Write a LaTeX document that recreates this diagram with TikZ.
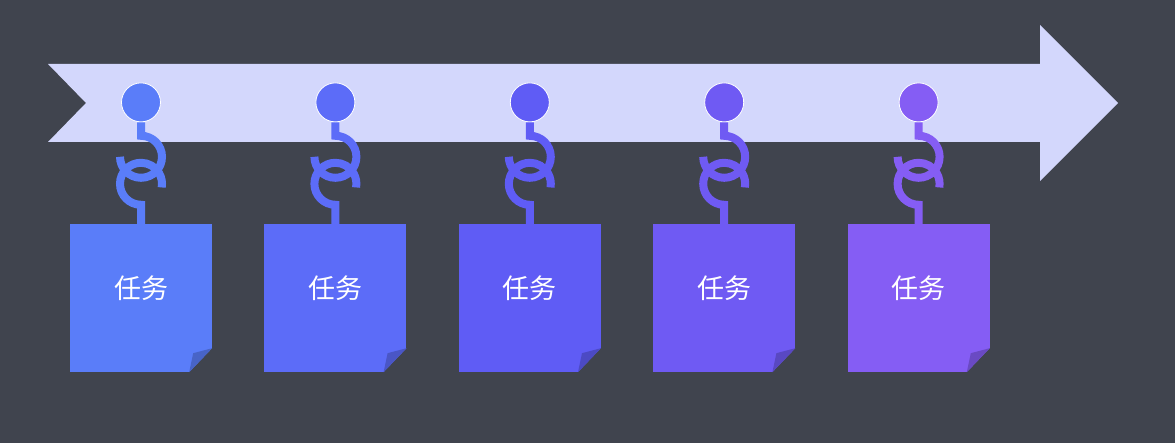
\documentclass[tikz,border=0pt]{standalone}
\usepackage{fontspec}
\newfontfamily\cjk{Noto Sans CJK SC}
\usetikzlibrary{positioning}

\definecolor{bg}{HTML}{40444E}
\definecolor{band}{HTML}{D3D7FC}
\definecolor{ca}{HTML}{5A7DF9}
\definecolor{cb}{HTML}{5C6CF8}
\definecolor{cc}{HTML}{5F5CF5}
\definecolor{cd}{HTML}{6F5AF3}
\definecolor{ce}{HTML}{855DF4}

\tikzset{
	pin/.style={circle, fill=#1, draw=white, line width=0.8pt, minimum size=39pt, inner sep=0pt},
	task/.style={rectangle, fill=#1, minimum width=142pt, minimum height=148pt, inner sep=0pt,
		text=white, font=\cjk\fontsize{27}{32}\selectfont},
	link/.style={draw=#1, line width=8pt},
}

% corner of a card, folded up
\newcommand{\fold}[2]{
	\fill[bg] (#1.south east) ++(0,24) -- ++(-23,-24) -- ++(23,0) -- cycle;
	\fill[#2!80!black] (#1.south east) ++(0,24) -- ++(-23,-24) -- ++(4,19) -- cycle;
}
% two rings hanging a card on its pin
\newcommand{\chainlink}[3]{
	\draw[link=#3] (#1.south) -- ++(0,-13.5) arc[start angle=90, end angle=-180, radius=21]
		(#2.north) -- ++(0,19) arc[start angle=-90, end angle=-370, radius=21];
}

\begin{document}
\begin{tikzpicture}[x=1pt, y=1pt]
			\useasboundingbox (0,0) rectangle (1175,443);
			\fill[bg] (0,0) rectangle (1175,443);
			\fill[band] (48,379) -- (1040,379) -- (1040,418) -- (1118,340) -- (1040,262)
				-- (1040,301) -- (48,301) -- (86,340) -- cycle;

			\node[task=ca] (t1) at (141,145) {\raisebox{22pt}{任务}};
			\node[task=cb, right=52pt of t1] (t2) {\raisebox{22pt}{任务}};
			\node[task=cc, right=52pt of t2] (t3) {\raisebox{22pt}{任务}};
			\node[task=cd, right=52pt of t3] (t4) {\raisebox{22pt}{任务}};
			\node[task=ce, right=52pt of t4] (t5) {\raisebox{22pt}{任务}};

			\node[pin=ca, above=101.5pt of t1] (p1) {};
			\node[pin=cb, above=101.5pt of t2] (p2) {};
			\node[pin=cc, above=101.5pt of t3] (p3) {};
			\node[pin=cd, above=101.5pt of t4] (p4) {};
			\node[pin=ce, above=101.5pt of t5] (p5) {};

			\chainlink{p1}{t1}{ca}
			\chainlink{p2}{t2}{cb}
			\chainlink{p3}{t3}{cc}
			\chainlink{p4}{t4}{cd}
			\chainlink{p5}{t5}{ce}

			\fold{t1}{ca}
			\fold{t2}{cb}
			\fold{t3}{cc}
			\fold{t4}{cd}
			\fold{t5}{ce}
		\end{tikzpicture}
\end{document}
